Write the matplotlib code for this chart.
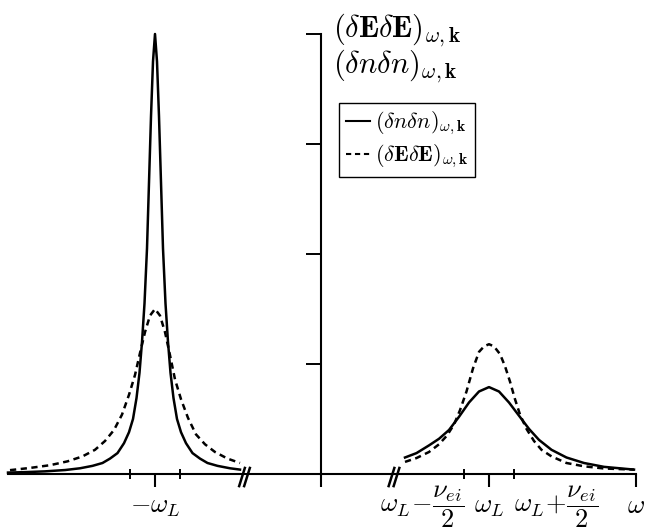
import numpy as np
import matplotlib
matplotlib.use("Agg")
from matplotlib import pyplot as plt

plt.rcParams['mathtext.fontset'] = 'cm'

# frequency in units of nu_ei, measured from the vertical axis (broken axis)
w_L_left = -3.32
w_L_right = 3.36
half_nu = 0.5
w_start = -6.26
w_end = 6.30
breaks_x = [-1.53, 1.46]

# peak at -omega_L, density fluctuations (solid)
x_left_n = [-6.26, -5.92, -5.52, -5.12, -4.82, -4.57, -4.37, -4.22, -4.07, -3.94,
            -3.84, -3.76, -3.69, -3.63, -3.58, -3.53, -3.48, -3.44, -3.40, -3.36,
            -3.32, -3.28, -3.24, -3.20, -3.16, -3.11, -3.06, -3.01, -2.95, -2.88,
            -2.80, -2.70, -2.57, -2.42, -2.27, -2.07, -1.82, -1.62]
y_left_n = [0.013, 0.017, 0.024, 0.036, 0.052, 0.074, 0.10, 0.14, 0.19, 0.28,
            0.38, 0.50, 0.69, 0.92, 1.20, 1.55, 2.05, 2.65, 3.25, 3.75,
            4.00, 3.75, 3.25, 2.65, 2.05, 1.55, 1.20, 0.92, 0.69, 0.50,
            0.38, 0.28, 0.19, 0.14, 0.10, 0.074, 0.052, 0.040]
# peak at -omega_L, field fluctuations (dashed)
x_left_E = [-6.22, -5.82, -5.42, -5.07, -4.77, -4.52, -4.32, -4.14, -3.98, -3.84,
            -3.72, -3.62, -3.52, -3.42, -3.32, -3.22, -3.12, -3.02, -2.92, -2.80,
            -2.66, -2.50, -2.32, -2.12, -1.87, -1.62]
y_left_E = [0.035, 0.055, 0.08, 0.115, 0.16, 0.22, 0.30, 0.40, 0.54, 0.72,
            0.90, 1.10, 1.29, 1.44, 1.50, 1.44, 1.29, 1.08, 0.86, 0.68,
            0.51, 0.36, 0.27, 0.20, 0.14, 0.10]
# peak at +omega_L, density fluctuations (solid)
x_right_n = [1.68, 1.91, 2.16, 2.36, 2.56, 2.76, 2.96, 3.16, 3.36, 3.56,
             3.76, 3.96, 4.16, 4.36, 4.61, 4.91, 5.26, 5.66, 6.26]
y_right_n = [0.15, 0.19, 0.26, 0.32, 0.40, 0.52, 0.65, 0.75, 0.79, 0.75,
             0.65, 0.53, 0.41, 0.31, 0.22, 0.15, 0.10, 0.065, 0.04]
# peak at +omega_L, field fluctuations (dashed)
x_right_E = [1.68, 1.91, 2.16, 2.36, 2.52, 2.66, 2.78, 2.91, 3.04, 3.16,
             3.26, 3.36, 3.46, 3.58, 3.68, 3.78, 3.88, 3.98, 4.11, 4.26,
             4.41, 4.61, 4.91, 5.26, 5.66, 6.26]
y_right_E = [0.11, 0.145, 0.20, 0.27, 0.35, 0.45, 0.58, 0.75, 0.96, 1.11,
             1.16, 1.18, 1.16, 1.09, 0.98, 0.84, 0.68, 0.54, 0.41, 0.30,
             0.22, 0.16, 0.10, 0.07, 0.05, 0.04]

lab_n = r'$(\delta n\delta n)_{\omega,\mathbf{k}}$'
lab_E = r'$(\delta\mathbf{E}\delta\mathbf{E})_{\omega,\mathbf{k}}$'

fig = plt.figure(figsize=(6.47, 5.29), dpi=100)
ax = fig.add_axes([0, 0, 1, 1])
ax.set_xlim(-6.42, 6.52)
ax.set_ylim(-0.5, 4.309)

lw = 1.8
dash = (0, (2.5, 1.8))
kw = dict(color='k', lw=lw, solid_joinstyle='round', dash_joinstyle='round')
ax.plot(x_left_n, y_left_n, label=lab_n, **kw)
ax.plot(x_left_E, y_left_E, ls=dash, label=lab_E, **kw)
ax.plot(x_right_n, y_right_n, **kw)
ax.plot(x_right_E, y_right_E, ls=dash, **kw)

# axes through the origin
for s in ['top', 'right']:
    ax.spines[s].set_visible(False)
ax.spines['left'].set_position(('data', 0))
ax.spines['bottom'].set_position(('data', 0))
ax.spines['left'].set_bounds(0, 4)
ax.spines['bottom'].set_bounds(w_start, w_end)
for s in ['left', 'bottom']:
    ax.spines[s].set_linewidth(1.5)

ax.set_yticks([1, 2, 3, 4])
ax.set_yticklabels([])
ax.tick_params(axis='y', direction='out', length=10.8, width=1.4)

ax.set_xticks([w_L_left, 0, w_L_right, w_end],
              [r'$-\omega_L$', '', r'$\omega_L$', r'$\omega$'])
ax.set_xticks([w_L_left - half_nu, w_L_left + half_nu,
               w_L_right - half_nu, w_L_right + half_nu],
              ['', '', r'$\omega_L\!-\!\dfrac{\nu_{ei}}{2}$',
               r'$\omega_L\!+\!\dfrac{\nu_{ei}}{2}$'], minor=True)
ax.tick_params(axis='x', which='major', direction='out', length=9, width=1.5,
               labelsize=19, pad=5)
ax.tick_params(axis='x', which='minor', direction='inout', length=7, width=1.4,
               labelsize=19, pad=3)
mlabs = ax.get_xticklabels(minor=True)
mlabs[2].set_ha('right')
mlabs[3].set_ha('left')

# break marks on the horizontal axis
for xb in breaks_x:
    for off in [-0.05, 0.05]:
        ax.plot([xb + off - 0.057, xb + off + 0.057], [-0.11, 0.055],
                color='k', lw=1.8, clip_on=False)

ax.text(0.515, 0.978, lab_E, transform=ax.transAxes, fontsize=22,
        ha='left', va='top')
ax.text(0.515, 0.91, lab_n, transform=ax.transAxes, fontsize=22,
        ha='left', va='top')

leg = ax.legend(loc='upper left', bbox_to_anchor=(0.524, 0.805), fontsize=16,
                frameon=True, fancybox=False, framealpha=1, edgecolor='k',
                handlelength=1.1, handletextpad=0.2, labelspacing=0.25,
                borderpad=0.3, borderaxespad=0)
leg.get_frame().set_linewidth(1.0)
for h in leg.get_lines():
    h.set_linewidth(1.5)

plt.savefig("out.png", dpi=100)
plt.close()
